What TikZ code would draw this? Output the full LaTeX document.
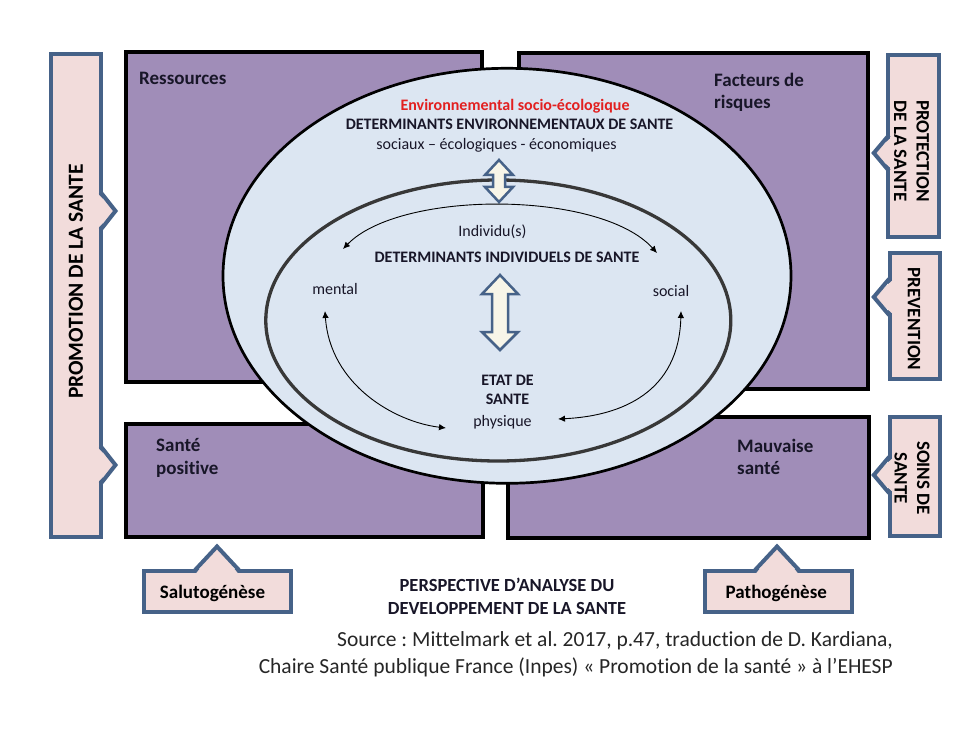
\documentclass[tikz,border=0pt]{standalone}
\usepackage{fontspec}
\setmainfont{Carlito}[Ligatures={TeX,NoCommon}]
\frenchspacing
\usetikzlibrary{arrows.meta,shapes.geometric}

\definecolor{violetbox}{RGB}{160,141,184}
\definecolor{envblue}{RGB}{220,230,242}
\definecolor{rosebox}{RGB}{242,220,219}
\definecolor{steel}{RGB}{70,98,136}
\definecolor{creme}{RGB}{247,245,232}
\definecolor{rouge}{RGB}{226,32,32}
\definecolor{encre}{RGB}{24,22,40}

\tikzset{
  quadrant/.style={draw=black, line width=4pt, fill=violetbox, anchor=north west, inner sep=0pt},
  cadre/.style={draw=steel, line width=4pt, fill=rosebox, inner sep=0pt},
  etiq/.style={font=\fontsize{19}{22.5}\selectfont\bfseries, text=encre, inner sep=0pt},
  moyen/.style={font=\fontsize{16}{18.5}\selectfont, text=encre, inner sep=0pt},
  gras/.style={font=\fontsize{16}{18.5}\selectfont\bfseries, text=encre, inner sep=0pt},
  courbe/.style={line width=0.9pt, {Latex[length=7pt,width=6.5pt]}-{Latex[length=7pt,width=6.5pt]}},
  bloque/.style={draw=steel, line width=2.5pt, fill=creme, line join=miter},
  pointe/.style={draw=steel, line width=4pt, line join=miter}
}

\begin{document}
\begin{tikzpicture}[x=1pt,y=-1pt]
\useasboundingbox (0,0) rectangle (978,733);

% quadrants
\node[quadrant, minimum width=356pt, minimum height=329.5pt] (ress) at (124,50.5) {};
\node[quadrant, minimum width=349pt, minimum height=335.5pt] (risq) at (517,51.5) {};
\node[quadrant, minimum width=357pt, minimum height=113pt] (posi) at (124,422) {};
\node[quadrant, minimum width=361.5pt, minimum height=121.5pt] (mauv) at (505.5,414.5) {};

\node[etiq, anchor=base west] (tress) at (139,85) {Ressources};
\node[etiq, anchor=north west, align=left] (trisq) at (714,72.5) {Facteurs de\\risques};
\node[etiq, anchor=north west, align=left] (tposi) at (156,438.4) {Santé\\positive};
\node[etiq, anchor=north west, align=left] (tmauv) at (737,438.5) {Mauvaise\\santé};

% ellipses
\node[ellipse, draw=black, line width=2.7pt, fill=envblue, minimum width=568pt, minimum height=415pt] (envir) at (507,275.8) {};
\node[ellipse, draw=black!78, line width=3.3pt, minimum width=465pt, minimum height=281pt] (indiv) at (498.3,320.5) {};

\node[gras, text=rouge, anchor=base] (socioeco) at (515,110.5) {Environnemental socio-écologique};
\node[gras, anchor=base] (detenv) at (509.5,129.5) {DETERMINANTS ENVIRONNEMENTAUX DE SANTE};
\node[moyen, anchor=base] (sociaux) at (496.5,149.5) {sociaux – écologiques - économiques};
\node[moyen, anchor=base] (individu) at (492.5,236.5) {Individu(s)};
\node[gras, anchor=base] (detind) at (507,262.5) {DETERMINANTS INDIVIDUELS DE SANTE};
\node[moyen, anchor=base] (mental) at (335,294) {mental};
\node[moyen, anchor=base] (social) at (671,296.5) {social};
\node[gras, anchor=north, align=center] (etat) at (507.5,375.2) {ETAT DE\\SANTE};
\node[moyen, anchor=base] (physique) at (502.5,426.5) {physique};

% doubles fleches
\draw[bloque] (499,160) -- (513,175) -- (505,175) -- (505,187) -- (513,187) -- (499,202)
  -- (485,187) -- (493,187) -- (493,175) -- (485,175) -- cycle;
\draw[bloque] (500,275) -- (518,294) -- (508,294) -- (508,332) -- (518,332) -- (500,350)
  -- (482,332) -- (492,332) -- (492,294) -- (482,294) -- cycle;

% fleches courbes
\coordinate (indG) at (343,249);
\coordinate (indD) at (657,253);
\draw[courbe] (indG) .. controls (400,190) and (600,190) .. (indD);
\coordinate (menB) at (325,311);
\coordinate (phyG) at (446,428);
\draw[courbe] (menB) .. controls (330,385) and (395,422) .. (phyG);
\coordinate (socB) at (681,311);
\coordinate (phyD) at (558,419);
\draw[courbe] (socB) .. controls (679,392) and (622,416) .. (phyD);

% cadres roses
\node[cadre, minimum width=50pt, minimum height=483pt] (promo) at (75.5,295.4) {};
\node[font=\fontsize{21.5}{25}\selectfont\bfseries, rotate=90, inner sep=0pt] (tpromo) at (76,281.5) {PROMOTION DE LA SANTE};
\node[cadre, minimum width=50.4pt, minimum height=182.3pt] (protec) at (913.5,145.9) {};
\node[etiq, text=black, rotate=-90, align=center] (tprotec) at (911.5,151) {PROTECTION\\DE LA SANTE};
\node[cadre, minimum width=50pt, minimum height=125.7pt] (prev) at (914.5,315.8) {};
\node[etiq, text=black, rotate=-90] (tprev) at (914,319) {PREVENTION};
\node[cadre, minimum width=50pt, minimum height=119pt] (soins) at (914.5,476.6) {};
\node[etiq, text=black, rotate=-90, align=center] (tsoins) at (912,478) {SOINS DE\\SANTE};
\node[cadre, minimum width=147.4pt, minimum height=41pt] (saluto) at (217.5,591.7) {};
\node[etiq, text=black, anchor=base] (tsaluto) at (212.5,598.5) {Salutogénèse};
\node[cadre, minimum width=147.3pt, minimum height=41pt] (patho) at (778.3,591.7) {};
\node[etiq, text=black, anchor=base] (tpatho) at (776.3,598.5) {Pathogénèse};

% pointes
\foreach \yy in {211,465} {
  \fill[rosebox] (96,\yy-19) -- (115.5,\yy) -- (96,\yy+19) -- cycle;
  \draw[pointe] (100.5,\yy-19) -- (115.5,\yy) -- (100.5,\yy+19);
}
\foreach \yy in {153,297,475} {
  \fill[rosebox] (894,\yy-18) -- (873.8,\yy) -- (894,\yy+18) -- cycle;
  \draw[pointe] (889,\yy-18) -- (873.8,\yy) -- (889,\yy+18);
}
\foreach \xx in {217,777} {
  \fill[rosebox] (\xx-23,576) -- (\xx,546.5) -- (\xx+23,576) -- cycle;
  \draw[pointe] (\xx-23,571.2) -- (\xx,546.5) -- (\xx+23,571.2);
}

% titre et source
\node[font=\fontsize{18.5}{22.3}\selectfont\bfseries, text=encre, inner sep=0pt, anchor=north, align=center] (persp) at (507,578.1) {PERSPECTIVE D’ANALYSE DU\\DEVELOPPEMENT DE LA SANTE};
\node[font=\fontsize{21.5}{27}\selectfont, text=black!85, inner sep=0pt, anchor=north east, align=right] (source) at (893,631) {Source : Mittelmark et al. 2017, p.47, traduction de D. Kardiana,\\Chaire Santé publique France (Inpes) « Promotion de la santé » à l’EHESP};
\end{tikzpicture}
\end{document}
